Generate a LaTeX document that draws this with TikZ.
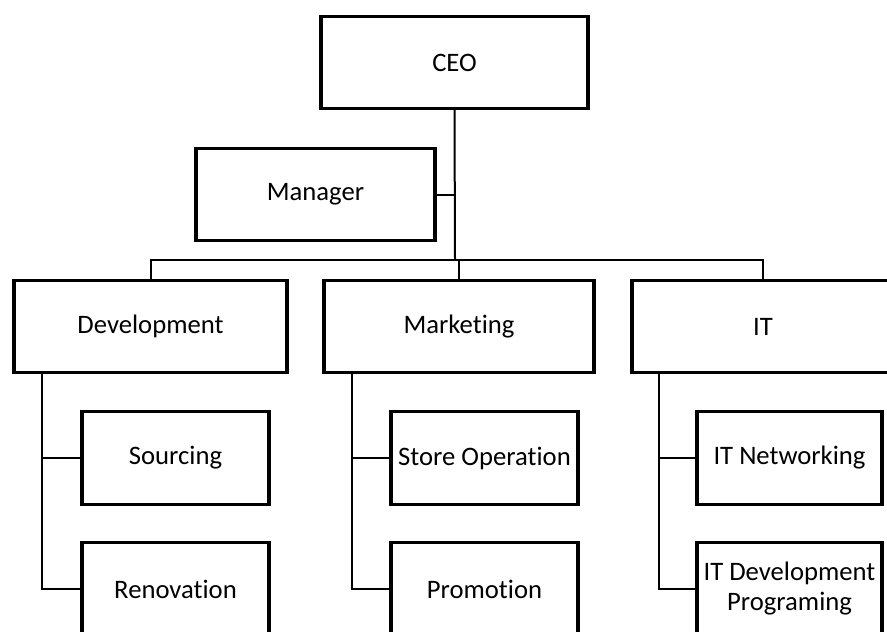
\documentclass[tikz,border=0pt]{standalone}
\usepackage{fontspec}
\setmainfont[Ligatures={NoCommon,NoContextual}]{Carlito}
\begin{document}
\begin{tikzpicture}[x=0.75pt,y=-0.75pt,
  box/.style={draw=black,line width=2.4pt,fill=white,inner sep=0pt,outer sep=0pt,
    align=center,font=\fontsize{20}{22.5}\selectfont,minimum height=69.5pt},
  link/.style={draw=black,line width=1.5pt}]
\useasboundingbox (0,0) rectangle (887,631);
\clip (0,0) rectangle (887,631);
% nodes
\node[box,minimum width=200.25pt] (ceo) at (454.5,62.5) {CEO};
\node[box,minimum width=179.25pt] (mgr) at (315.5,194.5) {Manager};
\node[box,minimum width=204.75pt] (dev) at (150.5,326.5) {Development};
\node[box,minimum width=202.5pt] (mkt) at (459,326.5) {Marketing};
\node[box,minimum width=196.5pt] (it) at (763,326.5) {IT};
\node[box,minimum width=140.25pt] (src) at (175.5,458) {Sourcing};
\node[box,minimum width=140.25pt] (ren) at (175.5,589) {Renovation};
\node[box,minimum width=140.25pt] (sto) at (484.5,458) {Store Operation};
\node[box,minimum width=140.25pt] (pro) at (484.5,589) {Promotion};
\node[box,minimum width=138.75pt] (itn) at (789.5,458) {IT Networking};
\node[box,minimum width=138.75pt] (itd) at (789.5,589) {IT Development\\Programing};
% coordinates
\coordinate (bus) at (455,260);
\coordinate (dv) at (42,373);
\coordinate (mv) at (352,373);
\coordinate (iv) at (659,373);
% connectors
\draw[link] (ceo.south) -- (bus);
\draw[link] (mgr.east) -- (mgr.east -| bus);
\draw[link] (dev.north) |- (bus) -| (it.north);
\draw[link] (mkt.north) -- (mkt.north |- bus);
\draw[link] (dv) |- (ren.west);
\draw[link] (src.west) -- (src.west -| dv);
\draw[link] (mv) |- (pro.west);
\draw[link] (sto.west) -- (sto.west -| mv);
\draw[link] (iv) |- (itd.west);
\draw[link] (itn.west) -- (itn.west -| iv);
\end{tikzpicture}
\end{document}
